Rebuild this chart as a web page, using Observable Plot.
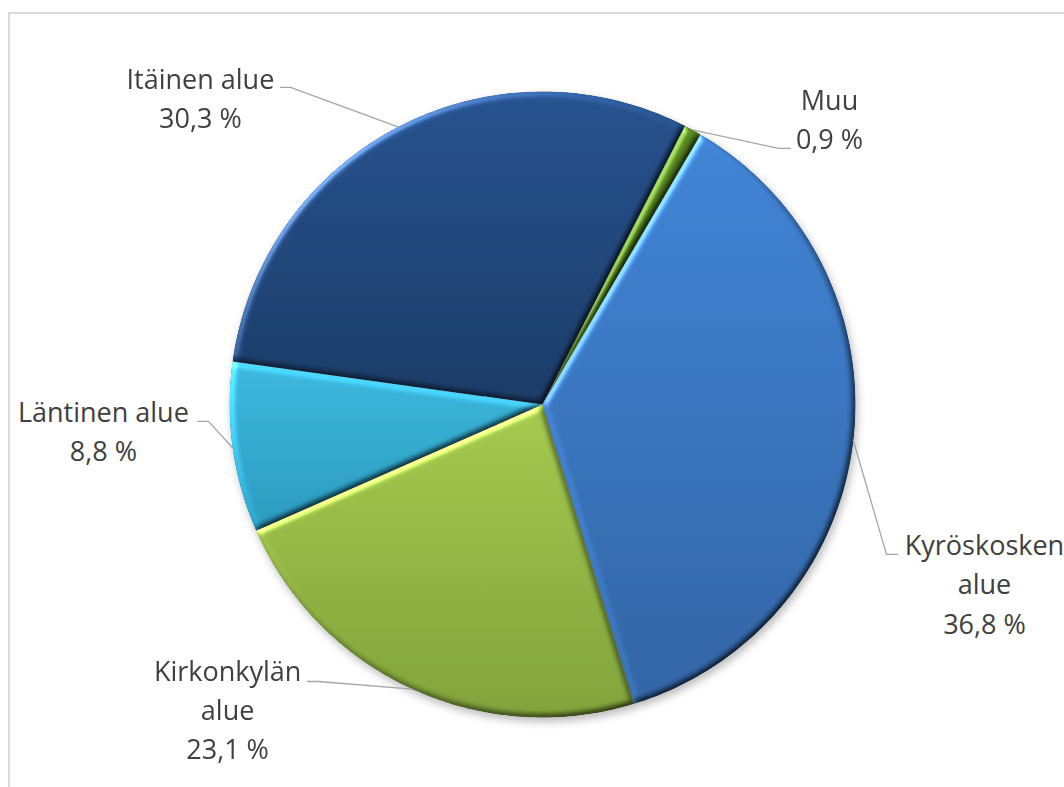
<!DOCTYPE html>
<html><head><meta charset="utf-8">
<script src="https://cdn.jsdelivr.net/npm/d3@7"></script>
<script src="https://cdn.jsdelivr.net/npm/@observablehq/plot@0.6"></script>
<style>
html,body{margin:0;padding:0;background:#fff;overflow:hidden;}
#wrap{position:relative;width:1064px;height:787px;overflow:hidden;}
#frame{position:absolute;left:8px;top:12px;width:1100px;height:820px;border-left:2px solid #dadada;border-top:2px solid #dadada;box-sizing:border-box;}
#chart{position:absolute;left:0;top:0;}
</style></head><body>
<div id="wrap"><div id="frame"></div><div id="chart"></div></div>
<script>
// ---- data ----
const categories = ["Muu", "Kyröskosken alue", "Kirkonkylän alue", "Läntinen alue", "Itäinen alue"];
const shares = [0.9, 36.8, 23.1, 8.8, 30.3];
const valueLabels = ["0,9 %", "36,8 %", "23,1 %", "8,8 %", "30,3 %"];

// ---- styling / layout ----
const topColors = ["#578720", "#4186da", "#a8cd50", "#3cbde2", "#275391"];
const bottomColors = ["#436b18", "#3266a8", "#83a53b", "#2a9cc1", "#1b3c68"];
const startAngleDeg = 27.1;            // first slice (Muu) begins here, clockwise from 12 o'clock
const wrapLabel = [false, true, true, false, false];
// label anchor (center x, last baseline y) and leader elbow / end, in unit-circle coordinates
const labelX = [0.917, 1.412, -1.006, -1.403, -1.093];
const labelY = [0.815, -0.732, -1.134, -0.182, 0.882];
const elbowX = [0.754, 1.099, -0.716, -1.067, -0.805];
const elbowY = [0.818, -0.479, -0.885, -0.054, 1.013];
const endX = [0.792, 1.134, -0.751, -1.102, -0.837];
const endY = [0.818, -0.479, -0.885, -0.054, 1.013];

const a0 = startAngleDeg * Math.PI / 180;
const arcs = d3.pie().sort(null).startAngle(a0).endAngle(a0 + 2 * Math.PI)(shares);

// slice polygons in unit coordinates (x = sin a, y = cos a)
const slicePts = arcs.map((a, i) => {
  const pts = [{x: 0, y: 0, name: categories[i]}];
  const n = Math.max(4, Math.ceil((a.endAngle - a.startAngle) / (Math.PI / 180)));
  for (let k = 0; k <= n; k++) {
    const t = a.startAngle + (a.endAngle - a.startAngle) * k / n;
    pts.push({x: Math.sin(t), y: Math.cos(t), name: categories[i]});
  }
  pts.push({x: 0, y: 0, name: categories[i]});
  return pts;
});

const leaders = arcs.flatMap((a, i) => {
  const m = (a.startAngle + a.endAngle) / 2;
  return [
    {x: Math.sin(m), y: Math.cos(m), name: categories[i]},
    {x: elbowX[i], y: elbowY[i], name: categories[i]},
    {x: endX[i], y: endY[i], name: categories[i]}
  ];
});

const labels = categories.map((c, i) => ({
  x: labelX[i], y: labelY[i],
  text: (wrapLabel[i] ? c.replace(" ", "\n") : c) + "\n" + valueLabels[i]
}));

const font = "'Open Sans', 'Noto Sans', sans-serif";
const chart = Plot.plot({
  width: 1064,
  height: 787,
  margin: 0,
  style: {background: "transparent", fontFamily: font},
  x: {domain: [-1, 1], range: [229, 855], axis: null},
  y: {domain: [-1, 1], range: [717, 91], axis: null},
  marks: [
    ...slicePts.map((pts, i) => Plot.line(pts, {x: "x", y: "y", fill: `url(#grad${i})`, stroke: "none", curve: "linear"})),
    Plot.line(leaders, {x: "x", y: "y", z: "name", stroke: "#a6a6a6", strokeWidth: 1.3}),
    Plot.text(labels, {x: "x", y: "y", text: "text", textAnchor: "middle", lineAnchor: "bottom", lineHeight: 1.46, fontSize: 27, fill: "#404040", fontFamily: font})
  ]
});
document.getElementById("chart").append(chart);

// gradients and bevel filter
const svg = d3.select(chart);
const defs = svg.insert("defs", ":first-child");
topColors.forEach((c, i) => {
  const g = defs.append("linearGradient").attr("id", `grad${i}`).attr("x1", 0).attr("y1", 0).attr("x2", 0).attr("y2", 1);
  g.append("stop").attr("offset", "0%").attr("stop-color", c);
  g.append("stop").attr("offset", "100%").attr("stop-color", bottomColors[i]);
});
const f = defs.append("filter").attr("id", "bevel").attr("x", "-5%").attr("y", "-5%").attr("width", "110%").attr("height", "110%")
  .attr("color-interpolation-filters", "sRGB");
f.append("feGaussianBlur").attr("in", "SourceAlpha").attr("stdDeviation", 3).attr("result", "blur");
f.append("feDiffuseLighting").attr("in", "blur").attr("surfaceScale", 2.5).attr("diffuseConstant", 1).attr("lighting-color", "#fff").attr("result", "diff")
  .append("feDistantLight").attr("azimuth", 225).attr("elevation", 45);
f.append("feSpecularLighting").attr("in", "blur").attr("surfaceScale", 2.5).attr("specularConstant", 0.6).attr("specularExponent", 30).attr("lighting-color", "#fff").attr("result", "spec")
  .append("feDistantLight").attr("azimuth", 225).attr("elevation", 35);
f.append("feComposite").attr("in", "spec").attr("in2", "SourceAlpha").attr("operator", "in").attr("result", "specIn");
f.append("feComposite").attr("in", "SourceGraphic").attr("in2", "diff").attr("operator", "arithmetic").attr("k1", 1.38).attr("k2", 0).attr("k3", 0).attr("k4", 0).attr("result", "shaded");
f.append("feComposite").attr("in", "shaded").attr("in2", "specIn").attr("operator", "arithmetic").attr("k1", 0).attr("k2", 1).attr("k3", 0.5).attr("k4", 0).attr("result", "lit");
f.append("feComposite").attr("in", "lit").attr("in2", "SourceAlpha").attr("operator", "in");

const sh = defs.append("filter").attr("id", "shadow").attr("x", "-10%").attr("y", "-10%").attr("width", "125%").attr("height", "125%");
sh.append("feDropShadow").attr("dx", 2).attr("dy", 4).attr("stdDeviation", 4).attr("flood-color", "#000").attr("flood-opacity", 0.28);

const sliceGroups = svg.selectAll("g").filter(function () { const fl = this.getAttribute("fill"); return fl && fl.startsWith("url("); });
sliceGroups.attr("filter", "url(#bevel)");
const nodes = sliceGroups.nodes();
if (nodes.length) {
  const wrapG = document.createElementNS("http://www.w3.org/2000/svg", "g");
  wrapG.setAttribute("filter", "url(#shadow)");
  nodes[0].parentNode.insertBefore(wrapG, nodes[0]);
  nodes.forEach(n => wrapG.appendChild(n));
}
</script>
</body></html>
